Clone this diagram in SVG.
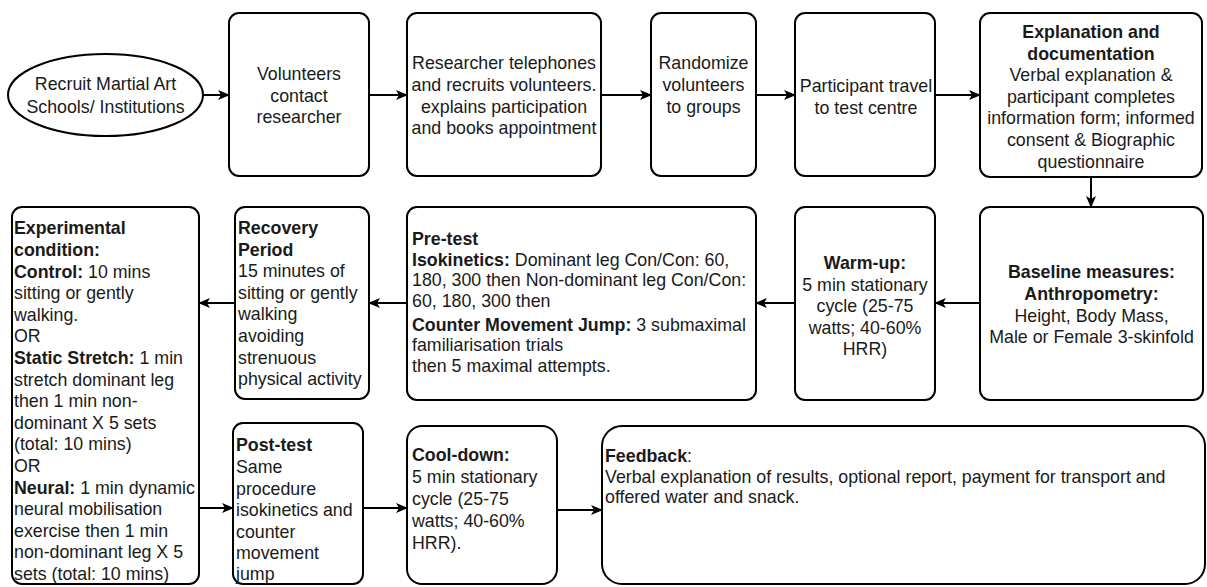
<svg xmlns="http://www.w3.org/2000/svg" width="1207" height="587" viewBox="0 0 1207 587">
<defs>
<style>
.box{fill:#fff;stroke:#000;stroke-width:2}
.t{font-family:"Liberation Sans",Arial,sans-serif;font-size:17.8px;fill:#1a1a1a}
.c{text-anchor:middle}
.b{font-weight:bold}
.ln{stroke:#000;stroke-width:2;fill:none}
</style>
<marker id="ah" viewBox="0 0 12 10" refX="11" refY="5" markerWidth="12" markerHeight="10" markerUnits="userSpaceOnUse" orient="auto">
<path d="M0,0 L12,5 L0,10 L3,5 Z" fill="#000"/>
</marker>
</defs>
<rect width="1207" height="587" fill="#fff"/>

<g id="connectors">
<line class="ln" x1="203" y1="95" x2="229" y2="95" marker-end="url(#ah)"/>
<line class="ln" x1="369" y1="95" x2="407" y2="95" marker-end="url(#ah)"/>
<line class="ln" x1="601" y1="95" x2="651" y2="95" marker-end="url(#ah)"/>
<line class="ln" x1="756" y1="95" x2="795" y2="95" marker-end="url(#ah)"/>
<line class="ln" x1="935" y1="95" x2="980" y2="95" marker-end="url(#ah)"/>
<line class="ln" x1="1091" y1="177" x2="1091" y2="207" marker-end="url(#ah)"/>
<line class="ln" x1="980" y1="303" x2="935" y2="303" marker-end="url(#ah)"/>
<line class="ln" x1="795" y1="303" x2="756" y2="303" marker-end="url(#ah)"/>
<line class="ln" x1="407" y1="303" x2="369" y2="303" marker-end="url(#ah)"/>
<line class="ln" x1="235" y1="303" x2="199" y2="303" marker-end="url(#ah)"/>
<line class="ln" x1="199" y1="508" x2="233" y2="508" marker-end="url(#ah)"/>
<line class="ln" x1="363" y1="508" x2="407" y2="508" marker-end="url(#ah)"/>
<line class="ln" x1="557" y1="510" x2="602" y2="510" marker-end="url(#ah)"/>
</g>

<g id="recruit">
<ellipse class="box" cx="105.5" cy="95" rx="97.5" ry="41"/>
<text class="t c" x="105.5" y="90">Recruit Martial Art</text>
<text class="t c" x="105.5" y="113">Schools/ Institutions</text>
</g>

<g id="volunteers">
<rect class="box" x="229" y="13" width="140" height="163" rx="10"/>
<text class="t c" x="299" y="80">Volunteers</text>
<text class="t c" x="299" y="101.6">contact</text>
<text class="t c" x="299" y="123.2">researcher</text>
</g>

<g id="researcher">
<rect class="box" x="407" y="13" width="194" height="163" rx="10"/>
<text class="t c" x="504" y="69">Researcher telephones</text>
<text class="t c" x="504" y="90.6">and recruits volunteers.</text>
<text class="t c" x="504" y="112.8">explains participation</text>
<text class="t c" x="504" y="134">and books appointment</text>
</g>

<g id="randomize">
<rect class="box" x="651" y="13" width="105" height="163" rx="10"/>
<text class="t c" x="703.5" y="69">Randomize</text>
<text class="t c" x="703.5" y="90.6">volunteers</text>
<text class="t c" x="703.5" y="112.8">to groups</text>
</g>

<g id="travel">
<rect class="box" x="795" y="13" width="140" height="163" rx="10"/>
<text class="t c" x="866" y="92">Participant travel</text>
<text class="t c" x="866" y="113.6">to test centre</text>
</g>

<g id="explanation">
<rect class="box" x="980" y="13" width="222" height="164" rx="10"/>
<text class="t c b" x="1091" y="38">Explanation and</text>
<text class="t c b" x="1091" y="59.6">documentation</text>
<text class="t c" x="1091" y="81.2">Verbal explanation &amp;</text>
<text class="t c" x="1091" y="102.8">participant completes</text>
<text class="t c" x="1091" y="124.4">information form; informed</text>
<text class="t c" x="1091" y="146">consent &amp; Biographic</text>
<text class="t c" x="1091" y="167.6">questionnaire</text>
</g>

<g id="baseline">
<rect class="box" x="980" y="207" width="223" height="193" rx="10"/>
<text class="t c b" x="1091.5" y="278">Baseline measures:</text>
<text class="t c b" x="1091.5" y="299.6">Anthropometry:</text>
<text class="t c" x="1091.5" y="322">Height, Body Mass,</text>
<text class="t c" x="1091.5" y="343">Male or Female 3-skinfold</text>
</g>

<g id="warmup">
<rect class="box" x="795" y="207" width="140" height="193" rx="10"/>
<text class="t c b" x="865" y="269">Warm-up:</text>
<text class="t c" x="865" y="290.6">5 min stationary</text>
<text class="t c" x="865" y="312.2">cycle (25-75</text>
<text class="t c" x="865" y="333.8">watts; 40-60%</text>
<text class="t c" x="865" y="355.4">HRR)</text>
</g>

<g id="pretest">
<rect class="box" x="407" y="207" width="349" height="193" rx="10"/>
<text class="t b" x="412" y="245">Pre-test</text>
<text class="t" x="412" y="266"><tspan class="b">Isokinetics:</tspan> Dominant leg Con/Con: 60,</text>
<text class="t" x="412" y="286">180, 300 then Non-dominant leg Con/Con:</text>
<text class="t" x="412" y="306.5">60, 180, 300 then</text>
<text class="t" x="412" y="330.5"><tspan class="b">Counter Movement Jump:</tspan> 3 submaximal</text>
<text class="t" x="412" y="350.5">familiarisation trials</text>
<text class="t" x="412" y="371.5">then 5 maximal attempts.</text>
</g>

<g id="recovery">
<rect class="box" x="235" y="207" width="134" height="192" rx="10"/>
<text class="t b" x="238" y="234">Recovery</text>
<text class="t b" x="238" y="255.6">Period</text>
<text class="t" x="238" y="277.2">15 minutes of</text>
<text class="t" x="238" y="298.8">sitting or gently</text>
<text class="t" x="238" y="320.4">walking</text>
<text class="t" x="238" y="342">avoiding</text>
<text class="t" x="238" y="363.6">strenuous</text>
<text class="t" x="238" y="385.2">physical activity</text>
</g>

<g id="experimental">
<rect class="box" x="12" y="207" width="187" height="377" rx="10"/>
<text class="t b" x="14" y="234.3">Experimental</text>
<text class="t b" x="14" y="255.9">condition:</text>
<text class="t" x="14" y="277.5"><tspan class="b">Control:</tspan> 10 mins</text>
<text class="t" x="14" y="299.1">sitting or gently</text>
<text class="t" x="14" y="320.7">walking.</text>
<text class="t" x="14" y="342.3">OR</text>
<text class="t" x="14" y="363.9"><tspan class="b">Static Stretch:</tspan> 1 min</text>
<text class="t" x="14" y="385.5">stretch dominant leg</text>
<text class="t" x="14" y="407.1">then 1 min non-</text>
<text class="t" x="14" y="428.7">dominant X 5 sets</text>
<text class="t" x="14" y="450.3">(total: 10 mins)</text>
<text class="t" x="14" y="471.9">OR</text>
<text class="t" x="14" y="493.5"><tspan class="b">Neural:</tspan> 1 min dynamic</text>
<text class="t" x="14" y="515.1">neural mobilisation</text>
<text class="t" x="14" y="536.7">exercise then 1 min</text>
<text class="t" x="14" y="558.3">non-dominant leg X 5</text>
<text class="t" x="14" y="579.9">sets (total: 10 mins)</text>
</g>

<g id="posttest">
<rect class="box" x="233" y="423" width="130" height="161" rx="10"/>
<text class="t b" x="236" y="451">Post-test</text>
<text class="t" x="236" y="473">Same</text>
<text class="t" x="236" y="494.5">procedure</text>
<text class="t" x="236" y="516">isokinetics and</text>
<text class="t" x="236" y="537.5">counter</text>
<text class="t" x="236" y="559">movement</text>
<text class="t" x="236" y="580">jump</text>
</g>

<g id="cooldown">
<rect class="box" x="407" y="426" width="150" height="158" rx="15"/>
<text class="t b" x="412" y="461">Cool-down:</text>
<text class="t" x="412" y="483">5 min stationary</text>
<text class="t" x="412" y="505">cycle (25-75</text>
<text class="t" x="412" y="527">watts; 40-60%</text>
<text class="t" x="412" y="549">HRR).</text>
</g>

<g id="feedback">
<rect class="box" x="602" y="426" width="603" height="158" rx="20"/>
<text class="t" x="605" y="461.5"><tspan class="b">Feedback</tspan>:</text>
<text class="t" x="605" y="483">Verbal explanation of results, optional report, payment for transport and</text>
<text class="t" x="605" y="502.5">offered water and snack.</text>
</g>
</svg>
